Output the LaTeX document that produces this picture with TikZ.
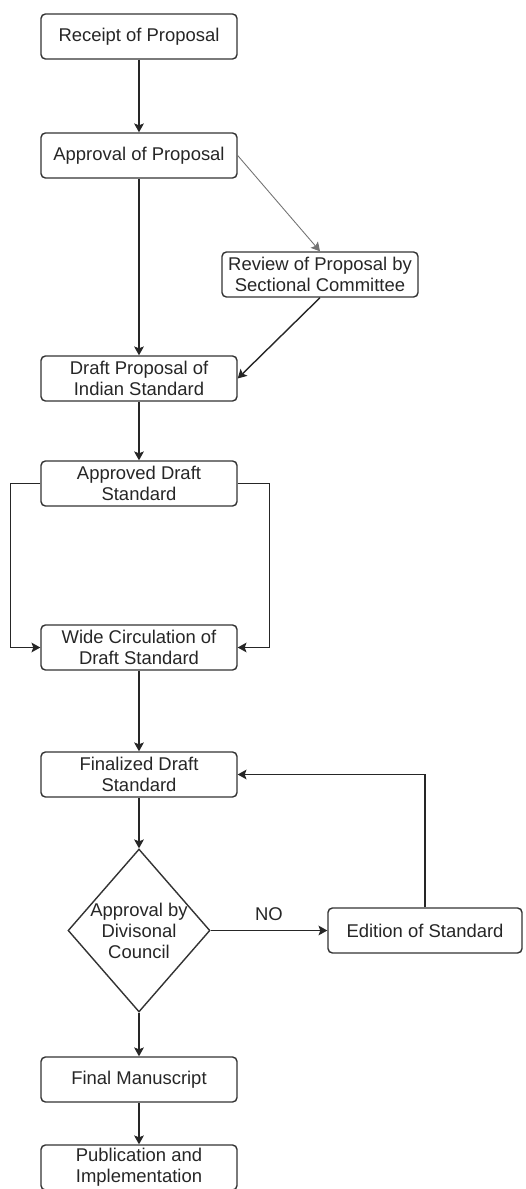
\documentclass[tikz,border=0pt]{standalone}
\usepackage{fontspec}
\setmainfont{Liberation Sans}
\usetikzlibrary{arrows.meta,shapes.geometric}

\begin{document}
\begin{tikzpicture}[x=0.02cm,y=-0.02cm,
txt/.style = {text=black!85, font=\fontsize{10.5}{12}\selectfont, align=center},
box/.style = {txt, draw=black!80, line width=0.8pt, rounded corners=2.5pt,
  minimum width=3.92cm, minimum height=0.9cm, inner sep=1pt},
decision/.style = {diamond, draw=black!80, line width=0.8pt,
  minimum width=2.84cm, minimum height=3.26cm, inner sep=0pt},
flow/.style = {draw=black!85, line width=0.8pt, -{Stealth[length=5pt,width=5.5pt,inset=1pt]}},
thinflow/.style = {flow, draw=black!55, line width=0.5pt}]
\useasboundingbox (0,0) rectangle (526,1189);
\node[box] (receipt) at (139,36.5) {Receipt of Proposal};
\node[box] (approval) at (139,155.5) {Approval of Proposal};
\node[box] (review) at (320,274.5) {Review of Proposal by\\Sectional Committee};
\node[box] (draft) at (139,378.5) {Draft Proposal of\\Indian Standard};
\node[box] (approved) at (139,483.5) {Approved Draft\\Standard};
\node[box] (wide) at (139,647.5) {Wide Circulation of\\Draft Standard};
\node[box] (final) at (139,774.5) {Finalized Draft\\Standard};
\node[decision] (council) at (139,930.5) {};
\node[txt] at (council) {Approval by\\Divisonal\\Council};
\node[box, minimum width=3.88cm] (edition) at (425,930.5) {Edition of Standard};
\node[box] (manuscript) at (139,1079.5) {Final Manuscript};
\node[box] (publication) at (139,1167.5) {Publication and\\Implementation};

\draw[flow] (receipt) -- (approval);
\draw[flow] (approval) -- (draft);
\draw[thinflow] (approval.east) -- (review.north);
\draw[flow] (review.south) -- (draft.east);
\draw[flow] (draft) -- (approved);
\draw[flow] (approved.west) -- ++(-30,0) |- (wide.west);
\draw[flow] (approved.east) -- ++(32,0) |- (wide.east);
\draw[flow] (wide) -- (final);
\draw[flow] (final) -- (council);
\draw[flow] (council.east) -- node[txt, above=2pt] {NO} (edition.west);
\draw[flow] (edition.north) |- (final.east);
\draw[flow] (council) -- (manuscript);
\draw[flow] (manuscript) -- (publication);
\end{tikzpicture}
\end{document}
